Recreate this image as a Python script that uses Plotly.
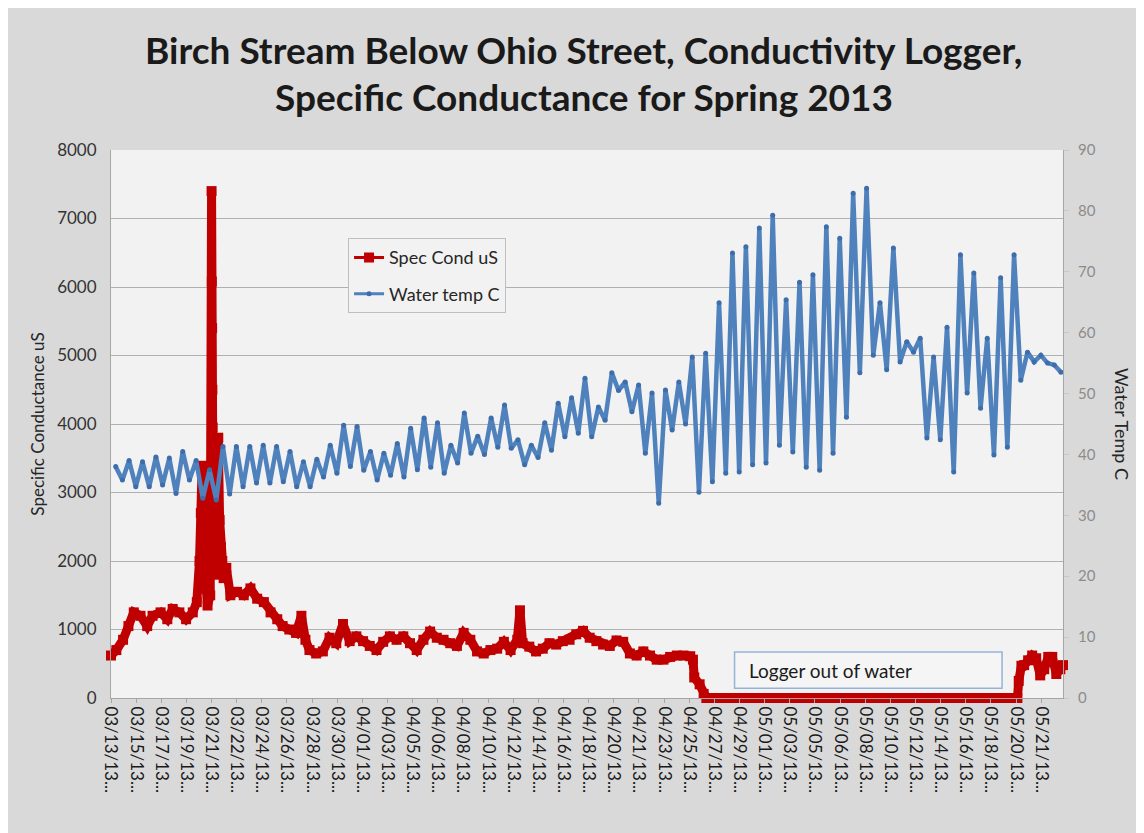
import plotly.graph_objects as go

# ---------------- data ----------------
tick_labels = [
    "03/13/13...", "03/15/13...", "03/17/13...", "03/19/13...", "03/21/13...",
    "03/22/13...", "03/24/13...", "03/26/13...", "03/28/13...", "03/30/13...",
    "04/01/13...", "04/03/13...", "04/05/13...", "04/06/13...", "04/08/13...",
    "04/10/13...", "04/12/13...", "04/14/13...", "04/16/13...", "04/18/13...",
    "04/20/13...", "04/21/13...", "04/23/13...", "04/25/13...", "04/27/13...",
    "04/29/13...", "05/01/13...", "05/03/13...", "05/05/13...", "05/06/13...",
    "05/08/13...", "05/10/13...", "05/12/13...", "05/14/13...", "05/16/13...",
    "05/18/13...", "05/20/13...", "05/21/13...",
]
label_step_days = 1.875  # one category label every 180 logger readings (15 min)

# Specific conductance (uS): day since first reading, value
cond_day = [
    0.0, 0.4, 0.9, 1.3, 1.7, 2.2, 2.7, 3.1, 3.7, 4.2, 4.6, 5.1, 5.6, 6.1, 6.4,
    6.6, 6.7, 6.8, 6.9, 7.0, 7.2, 7.4, 7.5, 7.52, 7.54, 7.56, 7.58, 7.6, 7.7,
    7.8, 7.9, 8.0, 8.1, 8.2, 8.3, 8.4, 8.6, 8.9, 9.4, 9.9, 10.4, 10.9, 11.4,
    11.9, 12.4, 12.8, 13.3, 13.8, 14.2, 14.5, 14.8, 15.3, 15.8, 16.3, 16.8,
    17.3, 17.8, 18.3, 18.8, 19.3, 19.8, 20.3, 20.8, 21.3, 21.8, 22.3, 22.8,
    23.3, 23.8, 24.3, 24.8, 25.3, 25.8, 26.3, 26.8, 27.3, 27.8, 28.3, 28.8,
    29.3, 29.8, 30.3, 30.5, 30.7, 31.2, 31.7, 32.2, 32.7, 33.2, 33.7, 34.2,
    34.7, 35.2, 35.7, 36.2, 36.7, 37.2, 37.7, 38.2, 38.7, 39.2, 39.7, 40.2,
    40.7, 41.2, 41.7, 42.2, 42.7, 43.2, 43.4, 43.5, 43.9, 44.2, 44.4,
    44.8, 45.2, 45.6, 46.0, 46.4, 46.8, 47.2, 47.6, 48.0, 48.4, 48.8, 49.2,
    49.6, 50.0, 50.4, 50.8, 51.2, 51.6, 52.0, 52.4, 52.8, 53.2, 53.6, 54.0,
    54.4, 54.8, 55.2, 55.6, 56.0, 56.4, 56.8, 57.2, 57.6, 58.0, 58.4, 58.8,
    59.2, 59.6, 60.0, 60.4, 60.8, 61.2, 61.6, 62.0, 62.4, 62.8, 63.2, 63.6,
    64.0, 64.4, 64.8, 65.2, 65.6, 66.0, 66.4, 66.8, 67.2, 67.6,
    67.7, 67.9, 68.1, 68.4, 68.7, 69.0, 69.3, 69.6, 69.9, 70.2, 70.5, 70.8,
    71.0,
]
cond_uS = [
    620, 700, 850, 1050, 1250, 1200, 1050, 1200, 1250, 1150, 1300, 1250, 1150,
    1250, 1400, 2000, 2700, 3390, 2100, 1600, 1350, 1500, 7400, 6080, 5400,
    4500, 3950, 3000, 2400, 1800, 2900, 3800, 2600, 2200, 2000, 1750, 1900,
    1500, 1550, 1500, 1600, 1450, 1400, 1250, 1150, 1050, 1000, 950, 1200,
    850, 700, 650, 680, 880, 800, 1080, 830, 900, 830, 760, 700, 820, 900,
    850, 900, 800, 700, 850, 970, 880, 850, 800, 760, 950, 850, 680, 650,
    700, 720, 820, 700, 850, 1280, 800, 750, 680, 720, 800, 780, 830, 850,
    930, 980, 880, 830, 780, 760, 840, 820, 650, 620, 680, 620, 560, 560,
    600, 620, 620, 610, 560, 300, 200, 60, 0,
    0, 0, 0, 0, 0, 0, 0, 0, 0, 0, 0, 0,
    0, 0, 0, 0, 0, 0, 0, 0, 0, 0, 0, 0,
    0, 0, 0, 0, 0, 0, 0, 0, 0, 0, 0, 0,
    0, 0, 0, 0, 0, 0, 0, 0, 0, 0, 0, 0,
    0, 0, 0, 0, 0, 0, 0, 0, 0, 0,
    250, 470, 480, 550, 620, 580, 330, 420, 600, 600, 350, 420,
    480,
]

# Water temperature (C): alternating daily high / low, one reading every 12 h
temp_first_day = 0.35
temp_step_days = 0.5
water_temp = [
    38.0, 35.8, 39.0, 34.7, 38.8, 34.7, 39.6, 35.0, 39.4, 33.6,
    40.5, 35.8, 39.0, 32.8, 37.5, 32.5, 41.3, 33.5, 41.3, 34.7,
    41.3, 35.3, 41.5, 35.3, 41.3, 35.5, 40.5, 34.7, 38.8, 34.7,
    39.2, 36.3, 41.5, 36.9, 44.8, 38.0, 44.6, 37.4, 40.5, 35.8,
    40.2, 36.6, 41.8, 36.3, 44.3, 37.5, 46.0, 37.9, 45.2, 36.9,
    41.5, 38.6, 46.8, 40.2, 43.0, 40.0, 46.0, 41.2, 48.1, 41.0,
    42.4, 38.3, 41.5, 39.5, 45.2, 40.7, 48.4, 42.9, 49.3, 43.5,
    52.5, 42.9, 47.8, 45.6, 53.4, 50.5, 51.9, 47.0, 51.4, 40.2,
    50.1, 32.0, 50.6, 44.0, 51.9, 45.0, 56.0, 33.8, 56.6, 35.5,
    64.9, 36.9, 73.1, 37.1, 74.1, 38.3, 77.2, 38.6, 79.3, 41.5,
    65.4, 40.4, 68.3, 37.9, 69.5, 37.4, 77.4, 40.2, 75.5, 46.1,
    82.9, 53.4, 83.7, 56.3, 64.9, 53.9, 73.9, 55.2, 58.5, 56.8,
    59.1, 42.7, 56.0, 42.4, 60.9, 37.1, 72.8, 50.1, 69.8, 47.6,
    59.1, 39.9, 69.0, 41.2, 72.8, 52.2, 56.8, 55.2, 56.3, 55.0,
    54.7, 53.5,
]
temp_day = [temp_first_day + temp_step_days * k for k in range(len(water_temp))]
tick_pos = [label_step_days * i for i in range(len(tick_labels))]

RED = "#c00000"
BLUE = "#4f81bd"
BLUE_MK = "#3d6dab"
FONT = "Lato"

fig = go.Figure()

# Spec Cond (primary axis)
fig.add_trace(go.Scatter(
    x=cond_day, y=cond_uS, mode="lines+markers", showlegend=False,
    line=dict(color=RED, width=9),
    marker=dict(symbol="square", size=10, color=RED),
    yaxis="y", cliponaxis=False,
))
# Water temp (secondary axis)
fig.add_trace(go.Scatter(
    x=temp_day, y=water_temp, mode="lines+markers", showlegend=False,
    line=dict(color=BLUE, width=4.5),
    marker=dict(symbol="circle", size=5, color=BLUE_MK),
    yaxis="y2",
))
# legend entries
fig.add_trace(go.Scatter(
    x=[None], y=[None], mode="lines+markers", name="Spec Cond uS",
    legendgroup="a",
    line=dict(color=RED, width=3), marker=dict(symbol="square", size=10, color=RED),
))
fig.add_trace(go.Scatter(
    x=[None], y=[None], mode="lines+markers", name="Water temp C",
    legendgroup="b",
    line=dict(color=BLUE, width=3), marker=dict(symbol="circle", size=5, color=BLUE_MK),
    yaxis="y2",
))

fig.update_layout(
    width=1136, height=825,
    margin=dict(l=103, r=81, t=142, b=135),
    paper_bgcolor="#d9d9d9",
    plot_bgcolor="#f2f2f2",
    font=dict(family=FONT, color="#404040"),
    xaxis=dict(
        range=[0, 71.0], tickmode="array", tickvals=tick_pos, ticktext=tick_labels,
        tickangle=90, tickfont=dict(size=17, color="#1a1a1a"),
        showgrid=False, zeroline=False, showline=True, linecolor="#a6a6a6",
        ticks="outside", ticklen=4, tickcolor="#a6a6a6",
    ),
    yaxis=dict(
        range=[0, 8000], dtick=1000, tickfont=dict(size=17, color="#333333"),
        ticklabelstandoff=10,
        title=dict(text="Specific Conductance uS", font=dict(size=17, color="#262626"), standoff=8),
        showgrid=True, gridcolor="#b0b0b0", gridwidth=1, zeroline=False,
        showline=True, linecolor="#a6a6a6", ticks="",
    ),
    yaxis2=dict(
        range=[0, 90], dtick=10, overlaying="y", side="right",
        tickfont=dict(size=15, color="#8c8c8c"), ticklabelstandoff=6,
        showgrid=False, zeroline=False, showline=True, linecolor="#a6a6a6",
        ticks="outside", ticklen=5, tickcolor="#c8c8c8",
    ),
    legend=dict(
        x=0.249, y=0.839, xanchor="left", yanchor="top",
        bgcolor="#f2f2f2", bordercolor="#bfbfbf", borderwidth=1,
        font=dict(size=18, color="#262626"), tracegroupgap=10,
    ),
    showlegend=True,
)

# two-line bold title
fig.add_annotation(
    text="<b>Birch Stream Below Ohio Street, Conductivity Logger,</b>",
    xref="paper", yref="paper", x=0.497, y=1.1825, xanchor="center", yanchor="middle",
    showarrow=False, font=dict(family=FONT, size=37, color="#1a1a1a"),
)
fig.add_annotation(
    text="<b>Specific Conductance for Spring 2013</b>",
    xref="paper", yref="paper", x=0.497, y=1.0985, xanchor="center", yanchor="middle",
    showarrow=False, font=dict(family=FONT, size=37, color="#1a1a1a"),
)

# right axis title (reads top to bottom)
fig.add_annotation(
    text="Water Temp C", xref="paper", yref="paper", x=1.062, y=0.5,
    xanchor="center", yanchor="middle", textangle=90, showarrow=False,
    font=dict(family=FONT, size=18, color="#262626"),
)

# "Logger out of water" text box
fig.add_shape(
    type="rect", xref="paper", yref="paper", x0=0.655, x1=0.936, y0=0.018, y1=0.084,
    line=dict(color="#95b3d7", width=1.5), fillcolor="#f5f5f5", layer="above",
)
fig.add_annotation(
    text="Logger out of water", xref="paper", yref="paper", x=0.668, y=0.051,
    xanchor="left", yanchor="middle", showarrow=False,
    font=dict(family=FONT, size=19, color="#1a1a1a"),
)

fig.write_html("out.html")
